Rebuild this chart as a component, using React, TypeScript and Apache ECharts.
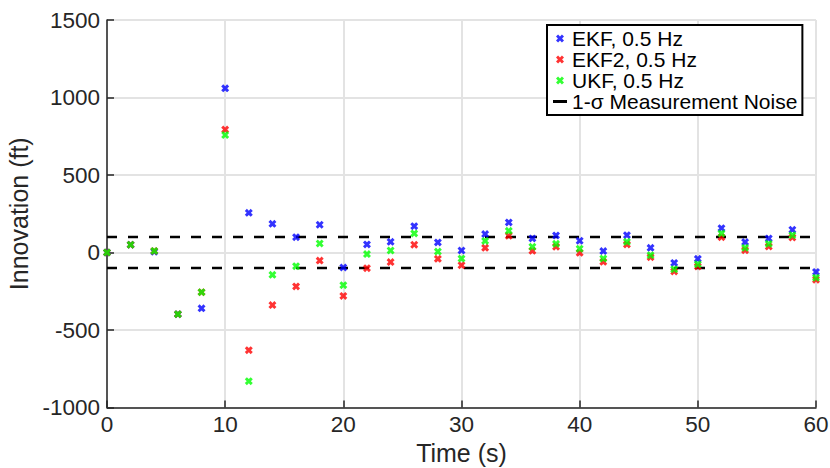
import React, { useEffect, useRef } from "react";
import * as echarts from "echarts";

const times = [0, 2, 4, 6, 8, 10, 12, 14, 16, 18, 20, 22, 24, 26, 28, 30, 32, 34, 36, 38, 40, 42, 44, 46, 48, 50, 52, 54, 56, 58, 60];
const ekf = [0, 50, 5, -398, -360, 1059, 256, 185, 99, 179, -97, 52, 69, 170, 65, 13, 119, 194, 91, 110, 76, 9, 112, 30, -67, -41, 157, 67, 91, 147, -125];
const ekf2 = [0, 50, 10, -398, -256, 793, -630, -339, -219, -52, -280, -101, -62, 50, -41, -82, 30, 108, 11, 37, -2, -60, 52, -30, -122, -90, 99, 15, 39, 97, -176];
const ukf = [0, 50, 10, -398, -256, 758, -830, -144, -88, 58, -211, -10, 13, 123, 6, -39, 75, 140, 37, 56, 24, -39, 69, -17, -108, -75, 123, 30, 56, 112, -163];
const sigma = 100;
const xRange = [0, 60];
const seriesNames = ["EKF, 0.5 Hz", "EKF2, 0.5 Hz", "UKF, 0.5 Hz", "1-σ Measurement Noise"];

const FONT = "'Liberation Sans', Arial, Helvetica, sans-serif";
const AXIS_COLOR = "#262626";
const X_SYMBOL = "path://M0,2.6L2.6,0L5,2.4L7.4,0L10,2.6L7.6,5L10,7.4L7.4,10L5,7.6L2.6,10L0,7.4L2.4,5Z";
const DASH_ICON = "path://M0,0H14V3H0Z";

export default function App() {
  const ref = useRef<HTMLDivElement>(null);
  useEffect(() => {
    if (!ref.current) return;
    const chart = echarts.init(ref.current, undefined, { renderer: "svg" });
    const pts = (vals: number[]) => times.map((t, i) => [t, vals[i]]);
    const scatter = (name: string, vals: number[], color: string) => ({
      name,
      type: "scatter",
      data: pts(vals),
      symbol: X_SYMBOL,
      symbolSize: 8,
      itemStyle: { color },
      z: 3,
    });
    const dashLine = (v: number) => ({
      name: seriesNames[3],
      type: "line",
      data: [
        [xRange[0], v],
        [xRange[1], v],
      ],
      symbol: "none",
      showSymbol: false,
      lineStyle: { color: "#000", width: 2.5, type: [10, 11] },
      itemStyle: { color: "#000" },
      z: 2,
    });
    chart.setOption({
      animation: false,
      textStyle: { fontFamily: FONT },
      grid: { left: 107, right: 14, top: 20, bottom: 60.5, containLabel: false, outerBoundsMode: "none" },
      legend: {
        orient: "vertical",
        left: 547,
        top: 25,
        padding: [3, 5, 3, 6],
        itemGap: 0,
        itemWidth: 14,
        itemHeight: 8,
        backgroundColor: "#fff",
        borderColor: "#000",
        borderWidth: 2,
        borderRadius: 0,
        z: 10,
        textStyle: { fontSize: 21, color: "#000", fontFamily: FONT, lineHeight: 21 },
        data: [
          { name: seriesNames[0] },
          { name: seriesNames[1] },
          { name: seriesNames[2] },
          { name: seriesNames[3], icon: DASH_ICON, itemStyle: { color: "#000" } },
        ],
      },
      xAxis: {
        type: "value",
        min: xRange[0],
        max: xRange[1],
        interval: 10,
        name: "Time (s)",
        nameLocation: "middle",
        nameGap: 29,
        nameTextStyle: { fontSize: 25, color: AXIS_COLOR, fontFamily: FONT },
        axisLine: { show: true, onZero: false, lineStyle: { color: AXIS_COLOR, width: 1.5 } },
        axisTick: { show: true, inside: true, length: 7, lineStyle: { color: AXIS_COLOR, width: 1.5 } },
        axisLabel: { fontSize: 22.5, color: AXIS_COLOR, margin: 5, fontFamily: FONT, formatter: (v: number) => String(v) },
        splitLine: { show: true, lineStyle: { color: "#e3e3e3", width: 2 } },
      },
      yAxis: {
        type: "value",
        min: -1000,
        max: 1500,
        interval: 500,
        name: "Innovation (ft)",
        nameLocation: "middle",
        nameGap: 72,
        nameTextStyle: { fontSize: 25, color: AXIS_COLOR, fontFamily: FONT },
        axisLine: { show: true, onZero: false, lineStyle: { color: AXIS_COLOR, width: 1.5 } },
        axisTick: { show: true, inside: true, length: 7, lineStyle: { color: AXIS_COLOR, width: 1.5 } },
        axisLabel: { fontSize: 22.5, color: AXIS_COLOR, margin: 7, fontFamily: FONT, formatter: (v: number) => String(v) },
        splitLine: { show: true, lineStyle: { color: "#e3e3e3", width: 2 } },
      },
      series: [
        dashLine(sigma),
        dashLine(-sigma),
        scatter(seriesNames[0], ekf, "#0000ff"),
        scatter(seriesNames[1], ekf2, "#ff0000"),
        scatter(seriesNames[2], ukf, "#00ff00"),
      ],
    });
    return () => chart.dispose();
  }, []);
  return (
    <div
      ref={ref}
      style={{ position: "fixed", left: 0, top: 0, width: 830, height: 468, background: "#fff" }}
    />
  );
}
